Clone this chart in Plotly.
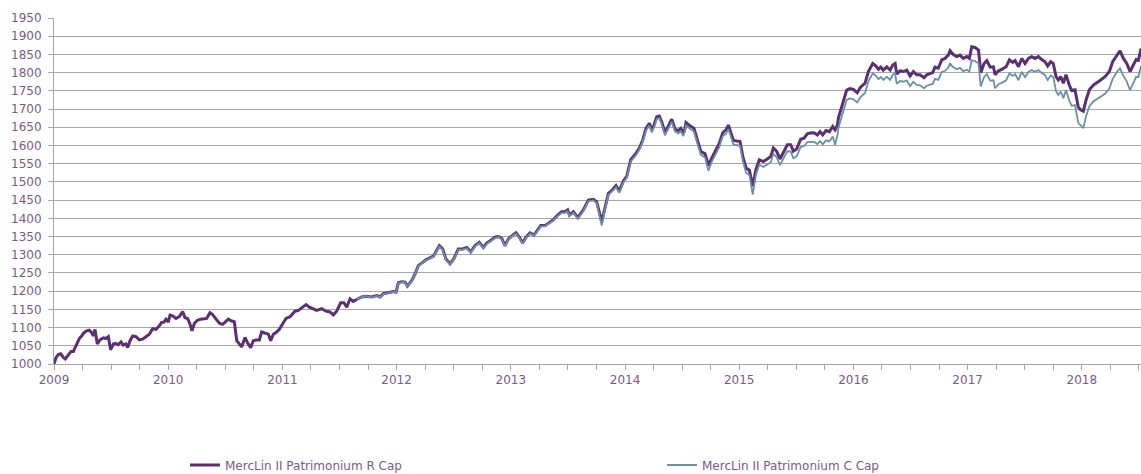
import plotly.graph_objects as go

# ---- data (decimal years) ----
r_dates = [
    2009.000, 2009.018, 2009.038, 2009.058, 2009.082, 2009.099, 2009.126, 2009.149, 2009.169, 2009.193,
    2009.222, 2009.242, 2009.263, 2009.286, 2009.309, 2009.330, 2009.344, 2009.359, 2009.379, 2009.403,
    2009.432, 2009.455, 2009.476, 2009.496, 2009.520, 2009.543, 2009.563, 2009.587, 2009.607, 2009.630,
    2009.645, 2009.666, 2009.689, 2009.718, 2009.747, 2009.776, 2009.806, 2009.835, 2009.864, 2009.893,
    2009.922, 2009.943, 2009.963, 2009.981, 2010.001, 2010.016, 2010.039, 2010.068, 2010.097, 2010.127,
    2010.147, 2010.170, 2010.191, 2010.208, 2010.229, 2010.255, 2010.284, 2010.313, 2010.337, 2010.366,
    2010.389, 2010.419, 2010.448, 2010.477, 2010.506, 2010.527, 2010.556, 2010.579, 2010.600, 2010.620,
    2010.643, 2010.673, 2010.693, 2010.722, 2010.745, 2010.769, 2010.798, 2010.818, 2010.848, 2010.877,
    2010.897, 2010.921, 2010.950, 2010.973, 2011.000, 2011.032, 2011.067, 2011.110, 2011.140, 2011.207,
    2011.236, 2011.271, 2011.300, 2011.344, 2011.382, 2011.417, 2011.446, 2011.475, 2011.510, 2011.539,
    2011.563, 2011.592, 2011.621,
    # C Cap starts here
    2011.650, 2011.694, 2011.738, 2011.782, 2011.826, 2011.855, 2011.884,
    2011.928, 2011.972, 2011.995, 2012.015, 2012.045, 2012.074, 2012.094, 2012.132, 2012.161, 2012.190,
    2012.229, 2012.257, 2012.322, 2012.351, 2012.374, 2012.403, 2012.432, 2012.468, 2012.503, 2012.540,
    2012.579, 2012.614, 2012.649, 2012.687, 2012.724, 2012.759, 2012.789, 2012.824, 2012.862, 2012.891,
    2012.920, 2012.949, 2012.978, 2013.017, 2013.046, 2013.075, 2013.104, 2013.133, 2013.168, 2013.203,
    2013.232, 2013.262, 2013.300, 2013.337, 2013.372, 2013.410, 2013.445, 2013.474, 2013.498, 2013.513,
    2013.548, 2013.587, 2013.635, 2013.679, 2013.723, 2013.752, 2013.775, 2013.796, 2013.825, 2013.854,
    2013.892, 2013.921, 2013.950, 2013.985, 2014.015, 2014.050, 2014.088, 2014.126, 2014.155, 2014.184,
    2014.213, 2014.234, 2014.254, 2014.278, 2014.300, 2014.321, 2014.350, 2014.379, 2014.409, 2014.438,
    2014.467, 2014.488, 2014.511, 2014.525, 2014.534, 2014.569, 2014.604, 2014.633, 2014.663, 2014.701,
    2014.730, 2014.759, 2014.788, 2014.826, 2014.855, 2014.884, 2014.905, 2014.925, 2014.949, 2015.007,
    2015.031, 2015.060, 2015.089, 2015.118, 2015.147, 2015.176, 2015.211, 2015.246, 2015.276, 2015.299,
    2015.328, 2015.357, 2015.392, 2015.421, 2015.451, 2015.474, 2015.503, 2015.538, 2015.567, 2015.596,
    2015.620, 2015.655, 2015.684, 2015.708, 2015.731, 2015.760, 2015.790, 2015.819, 2015.839, 2015.860,
    2015.868, 2015.897, 2015.941, 2015.970, 2015.999, 2016.033, 2016.062, 2016.102, 2016.131, 2016.169,
    2016.198, 2016.219, 2016.239, 2016.262, 2016.292, 2016.321, 2016.344, 2016.365, 2016.379, 2016.408,
    2016.438, 2016.467, 2016.496, 2016.525, 2016.554, 2016.583, 2016.618, 2016.642, 2016.671, 2016.694,
    2016.714, 2016.743, 2016.773, 2016.802, 2016.831, 2016.846, 2016.869, 2016.904, 2016.933, 2016.962,
    2016.992, 2017.015, 2017.036, 2017.065, 2017.095, 2017.115, 2017.144, 2017.168, 2017.197, 2017.226,
    2017.240, 2017.270, 2017.299, 2017.337, 2017.366, 2017.395, 2017.416, 2017.445, 2017.474, 2017.503,
    2017.532, 2017.561, 2017.590, 2017.620, 2017.649, 2017.678, 2017.701, 2017.727, 2017.750, 2017.774,
    2017.794, 2017.815, 2017.838, 2017.861, 2017.890, 2017.911, 2017.940, 2017.969, 2017.990, 2018.013,
    2018.037, 2018.066, 2018.101, 2018.136, 2018.165, 2018.203, 2018.241, 2018.270, 2018.305, 2018.334,
    2018.364, 2018.393, 2018.422, 2018.451, 2018.475, 2018.495, 2018.518,
]

r_values = [
    1000, 1018, 1026, 1028, 1018, 1014, 1025, 1034, 1034, 1050,
    1070, 1077, 1086, 1091, 1093, 1086, 1077, 1095, 1055, 1066,
    1072, 1070, 1075, 1039, 1055, 1056, 1053, 1061, 1052, 1055,
    1045, 1064, 1077, 1075, 1066, 1068, 1074, 1082, 1097, 1095,
    1105, 1114, 1115, 1123, 1115, 1134, 1132, 1125, 1130, 1144,
    1127, 1125, 1109, 1091, 1111, 1120, 1123, 1125, 1125, 1141,
    1136, 1123, 1112, 1109, 1118, 1123, 1118, 1116, 1064, 1055,
    1047, 1073, 1059, 1045, 1064, 1066, 1066, 1088, 1086, 1082,
    1064, 1082, 1088, 1095, 1109, 1125, 1130, 1145, 1147, 1163,
    1156, 1152, 1147, 1152, 1145, 1143, 1135, 1145, 1168, 1168,
    1156, 1179, 1172,
    1177, 1184, 1186, 1184, 1188, 1184, 1193,
    1197, 1199, 1197, 1223, 1226, 1225, 1214, 1229, 1247, 1270,
    1279, 1286, 1296, 1311, 1325, 1316, 1288, 1275, 1290, 1316,
    1316, 1320, 1308, 1325, 1334, 1320, 1332, 1339, 1348, 1350,
    1345, 1325, 1343, 1354, 1360, 1348, 1332, 1348, 1360, 1354,
    1366, 1380, 1380, 1389, 1396, 1409, 1418, 1418, 1423, 1409,
    1418, 1402, 1423, 1450, 1452, 1445, 1415, 1390, 1429, 1468,
    1479, 1490, 1475, 1502, 1515, 1561, 1575, 1593, 1615, 1647,
    1661, 1643, 1656, 1679, 1681, 1665, 1635, 1652, 1672, 1645,
    1641, 1647, 1634, 1647, 1663, 1654, 1647, 1615, 1584, 1577,
    1545, 1565, 1584, 1606, 1635, 1643, 1656, 1634, 1614, 1611,
    1570, 1538, 1532, 1488, 1535, 1561, 1556, 1563, 1570, 1593,
    1584, 1563, 1584, 1602, 1602, 1584, 1590, 1617, 1620, 1632,
    1634, 1635, 1629, 1638, 1629, 1641, 1638, 1652, 1643, 1656,
    1675, 1703, 1752, 1756, 1754, 1745, 1760, 1771, 1803, 1825,
    1818, 1809, 1815, 1807, 1816, 1807, 1821, 1825, 1796, 1805,
    1803, 1807, 1791, 1803, 1794, 1794, 1786, 1794, 1798, 1800,
    1815, 1812, 1835, 1839, 1848, 1860, 1851, 1844, 1848, 1839,
    1844, 1839, 1871, 1869, 1862, 1800, 1825, 1833, 1815, 1816,
    1794, 1805, 1809, 1816, 1835, 1828, 1833, 1816, 1839, 1825,
    1839, 1844, 1839, 1844, 1836, 1830, 1818, 1830, 1825, 1789,
    1780, 1789, 1771, 1794, 1766, 1751, 1753, 1705, 1698, 1694,
    1725, 1753, 1766, 1775, 1780, 1789, 1803, 1830, 1848, 1860,
    1839, 1825, 1803, 1821, 1836, 1834, 1866,
]

C_START = 103  # index in r_dates where the C Cap series begins (2011.650)
c_values = [
    1177, 1184, 1186, 1183, 1187, 1183, 1192,
    1196, 1198, 1196, 1222, 1225, 1224, 1213, 1228, 1246, 1269,
    1278, 1285, 1295, 1310, 1323, 1314, 1286, 1273, 1288, 1314,
    1314, 1318, 1306, 1323, 1332, 1318, 1330, 1337, 1346, 1348,
    1343, 1323, 1341, 1352, 1358, 1346, 1330, 1346, 1358, 1352,
    1364, 1378, 1378, 1387, 1394, 1406, 1415, 1415, 1420, 1406,
    1415, 1399, 1420, 1447, 1449, 1442, 1410, 1380, 1425, 1464,
    1475, 1486, 1470, 1498, 1511, 1556, 1570, 1588, 1610, 1641,
    1655, 1636, 1650, 1673, 1675, 1659, 1628, 1645, 1665, 1638,
    1633, 1639, 1626, 1639, 1655, 1646, 1638, 1606, 1575, 1567,
    1531, 1555, 1574, 1596, 1625, 1632, 1645, 1623, 1603, 1599,
    1558, 1525, 1519, 1465, 1521, 1547, 1541, 1548, 1554, 1577,
    1568, 1546, 1566, 1584, 1583, 1565, 1570, 1596, 1598, 1609,
    1610, 1610, 1604, 1612, 1603, 1614, 1611, 1625, 1602, 1628,
    1648, 1676, 1725, 1729, 1727, 1718, 1733, 1744, 1776, 1798,
    1791, 1782, 1788, 1780, 1789, 1780, 1794, 1798, 1769, 1777,
    1775, 1779, 1763, 1775, 1766, 1765, 1757, 1764, 1768, 1769,
    1783, 1780, 1802, 1805, 1814, 1826, 1816, 1809, 1813, 1804,
    1808, 1803, 1834, 1832, 1825, 1762, 1788, 1796, 1778, 1779,
    1757, 1768, 1772, 1779, 1798, 1791, 1796, 1779, 1802, 1788,
    1802, 1807, 1802, 1807, 1799, 1793, 1780, 1792, 1787, 1749,
    1739, 1748, 1730, 1752, 1724, 1709, 1711, 1662, 1655, 1648,
    1680, 1708, 1721, 1729, 1734, 1742, 1756, 1783, 1801, 1812,
    1791, 1776, 1752, 1770, 1788, 1788, 1818,
]
c_dates = r_dates[C_START:]

series_names = ["MercLin II Patrimonium R Cap", "MercLin II Patrimonium C Cap"]
year_ticks = [2009, 2010, 2011, 2012, 2013, 2014, 2015, 2016, 2017, 2018]
year_labels = [str(y) for y in year_ticks]

# ---- styling ----
R_COLOR = "#5b2f71"
C_COLOR = "#6b90a5"
TEXT_COLOR = "#7b5a85"
GRID_COLOR = "#a8a8a8"
FONT = "DejaVu Sans"

fig = go.Figure()
fig.add_trace(go.Scatter(
    x=r_dates, y=r_values, mode="lines", name=series_names[0],
    line=dict(color=R_COLOR, width=3), legend="legend",
))
fig.add_trace(go.Scatter(
    x=c_dates, y=c_values, mode="lines", name=series_names[1],
    line=dict(color=C_COLOR, width=1.8), legend="legend2",
))

legend_common = dict(
    xref="container", yref="container", y=9 / 474,
    xanchor="left", yanchor="middle", orientation="h",
    bgcolor="rgba(0,0,0,0)", font=dict(family=FONT, size=12, color=TEXT_COLOR),
)

fig.update_layout(
    width=1141, height=474, autosize=False,
    margin=dict(l=54, r=0, t=18, b=110, pad=0, autoexpand=False),
    paper_bgcolor="white", plot_bgcolor="white",
    font=dict(family=FONT, size=12, color=TEXT_COLOR),
    showlegend=True,
    legend=dict(x=185 / 1141, **legend_common),
    legend2=dict(x=662 / 1141, **legend_common),
    xaxis=dict(
        range=[2009, 2018.518], tickvals=year_ticks, ticktext=year_labels,
        automargin=False,
        showgrid=False, zeroline=False, showline=True, linecolor=GRID_COLOR, linewidth=1,
        ticks="outside", ticklen=5, tickcolor=GRID_COLOR, tickwidth=1,
        minor=dict(dtick=0.25, tick0=2009, ticks="outside", ticklen=5,
                   tickcolor=GRID_COLOR, tickwidth=1, showgrid=False),
        tickfont=dict(family=FONT, size=12, color=TEXT_COLOR),
        fixedrange=True,
    ),
    yaxis=dict(
        range=[1000, 1950], dtick=50, tick0=1000, automargin=False,
        showgrid=True, gridcolor=GRID_COLOR, gridwidth=1,
        zeroline=False, showline=True, linecolor=GRID_COLOR, linewidth=1,
        ticks="outside", ticklen=5, tickcolor=GRID_COLOR, tickwidth=1,
        ticklabelstandoff=4,
        tickfont=dict(family=FONT, size=12, color=TEXT_COLOR),
        fixedrange=True,
    ),
)

# place the figure flush with the page corner (no default body margin / scrollbars)
page_js = "document.body.style.margin='0';document.body.style.overflow='hidden';"
fig.write_html("out.html", post_script=page_js, config={"displayModeBar": False})
